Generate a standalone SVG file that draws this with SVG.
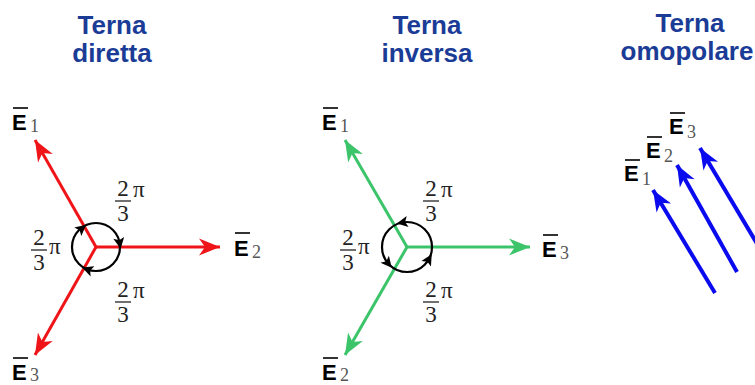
<svg xmlns="http://www.w3.org/2000/svg" xmlns:xlink="http://www.w3.org/1999/xlink" width="755" height="385" viewBox="0 0 755 385">
<style>
.title{font-family:"Liberation Sans",Arial,sans-serif;font-weight:bold;font-size:26px;fill:#1b3c96;text-anchor:middle}
.E{font-family:"Liberation Sans",Arial,sans-serif;font-weight:bold;font-size:22px;fill:#000}
.sub{font-family:"Liberation Serif","Times New Roman",serif;font-size:18px;fill:#555}
.bar{stroke:#000;stroke-width:1.6}
.num{font-family:"Liberation Serif","Times New Roman",serif;font-size:23px;fill:#222;text-anchor:middle}
.pi{font-family:"Liberation Serif","Times New Roman",serif;font-size:23px;fill:#222}
.fbar{stroke:#222;stroke-width:1.3}
.red{stroke:#ee1418;stroke-width:3;fill:none;marker-end:url(#ar)}
.grn{stroke:#3cc46a;stroke-width:3;fill:none;marker-end:url(#ag)}
.blu{stroke:#0a0aee;stroke-width:4;fill:none;marker-end:url(#ab)}
.rot{stroke:#000;stroke-width:2.2;fill:none}
</style>
<defs>
<marker id="ar" viewBox="-22 -10 24 20" refX="0" refY="0" markerWidth="24" markerHeight="20" orient="auto" markerUnits="userSpaceOnUse"><path d="M0,0 L-21,-8.5 L-15,0 L-21,8.5 Z" fill="#ee1418"/></marker>
<marker id="ag" viewBox="-22 -10 24 20" refX="0" refY="0" markerWidth="24" markerHeight="20" orient="auto" markerUnits="userSpaceOnUse"><path d="M0,0 L-21,-8.5 L-15,0 L-21,8.5 Z" fill="#3cc46a"/></marker>
<marker id="ab" viewBox="-22 -10 24 20" refX="0" refY="0" markerWidth="24" markerHeight="20" orient="auto" markerUnits="userSpaceOnUse"><path d="M0,0 L-21,-8.5 L-15,0 L-21,8.5 Z" fill="#0a0aee"/></marker>
<path id="ch" d="M6,0 L-5,-5.5 L-2.5,0 L-5,5.5 Z" fill="#000"/>
</defs>
<rect width="755" height="385" fill="#fff"/>

<g id="titles">
<text class="title" x="112" y="34">Terna</text>
<text class="title" x="112" y="62">diretta</text>
<text class="title" x="427" y="34">Terna</text>
<text class="title" x="427" y="62">inversa</text>
<text class="title" x="690" y="32">Terna</text>
<text class="title" x="687" y="60">omopolare</text>
</g>

<g id="connectors">
<line class="red" x1="96" y1="247" x2="35" y2="140"/>
<line class="red" x1="96" y1="247" x2="220" y2="247"/>
<line class="red" x1="96" y1="247" x2="35" y2="355"/>
<line class="grn" x1="407" y1="247" x2="345" y2="140"/>
<line class="grn" x1="407" y1="247" x2="530" y2="247"/>
<line class="grn" x1="407" y1="247" x2="345" y2="355"/>
<line class="blu" x1="715" y1="293" x2="653" y2="190"/>
<line class="blu" x1="737" y1="272" x2="677" y2="165"/>
<line class="blu" x1="762" y1="252" x2="700" y2="148"/>
</g>

<g id="rot-diretta">
<circle class="rot" cx="96" cy="247" r="24"/>
<use xlink:href="#ch" href="#ch" transform="translate(81.6,228.6) rotate(-40)"/>
<use xlink:href="#ch" href="#ch" transform="translate(119.6,242.8) rotate(80)"/>
<use xlink:href="#ch" href="#ch" transform="translate(87.8,269.6) rotate(200)"/>
</g>

<g id="rot-inversa">
<circle class="rot" cx="407" cy="247" r="25"/>
<use xlink:href="#ch" href="#ch" transform="translate(402.7,222.4) rotate(170)"/>
<use xlink:href="#ch" href="#ch" transform="translate(428.7,259.5) rotate(-60)"/>
<use xlink:href="#ch" href="#ch" transform="translate(387.9,263.1) rotate(50)"/>
</g>

<g id="angles-diretta">
<text class="num" x="123" y="196">2</text><line class="fbar" x1="115" y1="201" x2="131" y2="201"/><text class="num" x="123" y="221">3</text><text class="pi" x="133" y="197">π</text>
<text class="num" x="39" y="245">2</text><line class="fbar" x1="31" y1="250" x2="47" y2="250"/><text class="num" x="39" y="270">3</text><text class="pi" x="49" y="254">π</text>
<text class="num" x="123" y="297">2</text><line class="fbar" x1="115" y1="302" x2="131" y2="302"/><text class="num" x="123" y="322">3</text><text class="pi" x="133" y="298">π</text>
</g>

<g id="angles-inversa">
<text class="num" x="431" y="196">2</text><line class="fbar" x1="423" y1="201" x2="439" y2="201"/><text class="num" x="431" y="221">3</text><text class="pi" x="441" y="197">π</text>
<text class="num" x="348" y="245">2</text><line class="fbar" x1="340" y1="250" x2="356" y2="250"/><text class="num" x="348" y="270">3</text><text class="pi" x="358" y="254">π</text>
<text class="num" x="431" y="297">2</text><line class="fbar" x1="423" y1="302" x2="439" y2="302"/><text class="num" x="431" y="322">3</text><text class="pi" x="441" y="298">π</text>
</g>

<g id="E1-diretta"><line class="bar" x1="13" y1="108" x2="28" y2="108"/><text class="E" x="12" y="130">E</text><text class="sub" x="30" y="132">1</text></g>
<g id="E2-diretta"><line class="bar" x1="235" y1="233" x2="250" y2="233"/><text class="E" x="234" y="256">E</text><text class="sub" x="252" y="258">2</text></g>
<g id="E3-diretta"><line class="bar" x1="13" y1="358" x2="28" y2="358"/><text class="E" x="12" y="380">E</text><text class="sub" x="30" y="381">3</text></g>

<g id="E1-inversa"><line class="bar" x1="323" y1="108" x2="338" y2="108"/><text class="E" x="322" y="130">E</text><text class="sub" x="340" y="132">1</text></g>
<g id="E3-inversa"><line class="bar" x1="543" y1="235" x2="558" y2="235"/><text class="E" x="542" y="257">E</text><text class="sub" x="560" y="259">3</text></g>
<g id="E2-inversa"><line class="bar" x1="323" y1="358" x2="338" y2="358"/><text class="E" x="322" y="380">E</text><text class="sub" x="340" y="381">2</text></g>

<g id="E1-omopolare"><line class="bar" x1="625" y1="160" x2="640" y2="160"/><text class="E" x="624" y="181">E</text><text class="sub" x="642" y="185">1</text></g>
<g id="E2-omopolare"><line class="bar" x1="647" y1="137" x2="662" y2="137"/><text class="E" x="646" y="158">E</text><text class="sub" x="664" y="162">2</text></g>
<g id="E3-omopolare"><line class="bar" x1="670" y1="113" x2="685" y2="113"/><text class="E" x="669" y="134">E</text><text class="sub" x="687" y="138">3</text></g>
</svg>
